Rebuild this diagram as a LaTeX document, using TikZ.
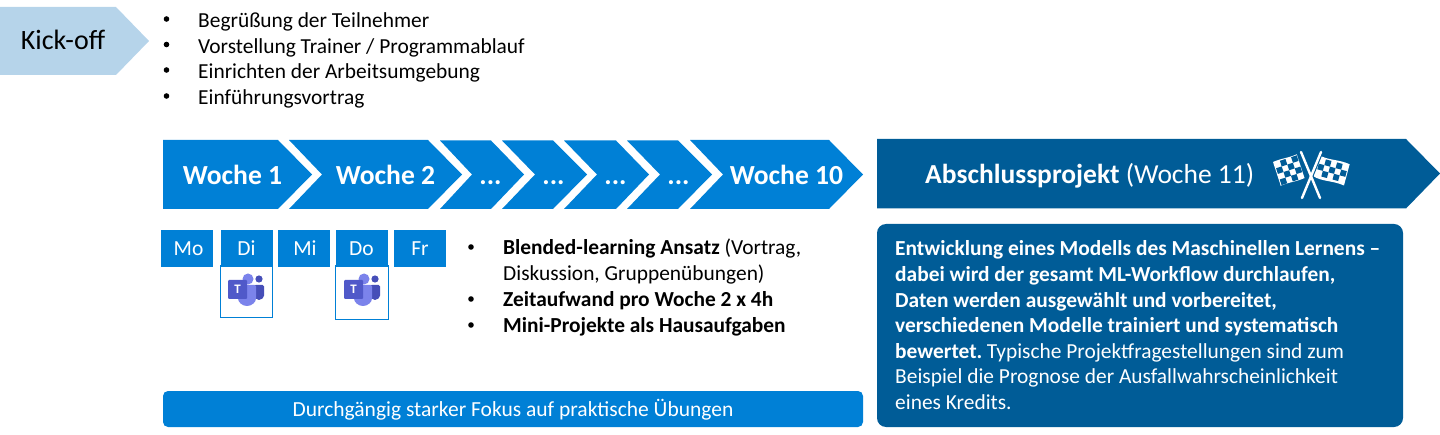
\documentclass[tikz,border=0pt]{standalone}
\usepackage{fontspec}
\setmainfont{Carlito}
\definecolor{kick}{HTML}{B6D4EA}
\definecolor{wk}{HTML}{0080D6}
\definecolor{dk}{HTML}{005C97}
\definecolor{tm}{HTML}{5059C9}
\definecolor{tmb}{HTML}{7B83EB}
\definecolor{tmd}{HTML}{464EB8}
\tikzset{
 x=1pt,y=-1pt,
 chev/.style={fill=wk,draw=none},
 lbl/.style={font=\fontsize{27.6}{27.6}\selectfont\bfseries,text=white,inner sep=0pt,anchor=base},
 day/.style={fill=wk,draw=none,minimum width=52pt,minimum height=37pt,inner sep=0pt,text=white,font=\fontsize{21.5}{21.5}\selectfont},
 teamsbox/.style={draw=wk,line width=1.7pt,fill=white,inner sep=0pt},
 tx/.style={font=\fontsize{21.4}{21.4}\selectfont,inner sep=0pt,anchor=base west,text=black},
 bul/.style={circle,fill=black,inner sep=0pt,minimum size=5.6pt},
 wt/.style={font=\fontsize{21.4}{21.4}\selectfont,inner sep=0pt,anchor=base west,text=white},
}
\newcommand{\teamsicon}[2]{%
 \begin{scope}[shift={(#1,#2)}]
  \fill[tmd] (13,-5) circle (3.6);
  \fill[tmd,rounded corners=1.5pt] (8,1) -- (18,1) -- (18,10) arc[start angle=0,end angle=-180,x radius=5pt,y radius=6pt] -- cycle;
  \fill[tmb] (2,-5) circle (5.5);
  \fill[tmb,rounded corners=1.5pt] (-8,1) -- (10,1) -- (10,13) arc[start angle=0,end angle=-180,x radius=9pt,y radius=9pt] -- cycle;
  \fill[tm,rounded corners=1pt] (-18,-4) rectangle (1,15);
  \node[font=\fontsize{13}{13}\selectfont\bfseries,text=white,inner sep=0pt] (#1t) at (-8.5,5.5) {T};
 \end{scope}}
\begin{document}
\begin{tikzpicture}
\useasboundingbox (0,0) rectangle (1440,435);
% Kick-off
\fill[kick] (0,7) -- (116,7) -- (149,41) -- (116,75) -- (0,75) -- cycle;
\node[font=\fontsize{28}{28}\selectfont,inner sep=0pt,anchor=base] (kick) at (63,50) {Kick-off};
% bullets
\foreach \y/\t [count=\i] in {28/{Begrüßung der Teilnehmer},53.5/{Vorstellung Trainer {/} Programmablauf},79/{Einrichten der Arbeitsumgebung},105/{Einführungsvortrag}}{
  \node[bul] (kb\i) at (166.5,\y-9) {};
  \node[tx] (kt\i) at (198,\y) {\t};
}
% Weeks
\fill[chev] (163,140) -- (278,140) -- (312,174.5) -- (278,209) -- (163,209) -- cycle;
\fill[chev] (289,140) -- (428,140) -- (462,174.5) -- (428,209) -- (289,209) -- (322,174.5) -- cycle;
\fill[chev] (440,140.5) -- (491,140.5) -- (524,174.5) -- (491,209) -- (440,209) -- (472,174.5) -- cycle;
\fill[chev] (502,140.5) -- (553,140.5) -- (587,174.5) -- (553,209) -- (502,209) -- (535,174.5) -- cycle;
\fill[chev] (564,140.5) -- (616,140.5) -- (649,174.5) -- (616,209) -- (564,209) -- (597,174.5) -- cycle;
\fill[chev] (627,140.5) -- (678,140.5) -- (712,174.5) -- (678,209) -- (627,209) -- (660,174.5) -- cycle;
\fill[chev] (690,140) -- (829,140) -- (863,174.5) -- (829,209) -- (690,209) -- (723,174.5) -- cycle;
\node[lbl] (w1) at (232.5,184.5) {Woche 1};
\node[lbl] (w2) at (385.5,184.5) {Woche 2};
\node[lbl] (w3) at (490.5,184.5) {...};
\node[lbl] (w4) at (553.5,184.5) {...};
\node[lbl] (w5) at (615.5,184.5) {...};
\node[lbl] (w6) at (678.5,184.5) {...};
\node[lbl] (w10) at (786.5,184.5) {Woche 10};
% Abschluss
\fill[dk] (877,139) -- (1406,139) -- (1440,173.5) -- (1406,208.5) -- (877,208.5) -- cycle;
\node[font=\fontsize{27.5}{27.5}\selectfont,text=white,inner sep=0pt,anchor=base west] (abs) at (925,184) {\textbf{Abschlussprojekt} (Woche 11)};
% flags
\begin{scope}[shift={(1273,162)},rotate=18]
 \fill[white] (0,0) .. controls (8,-1) and (16,1) .. (25,0) -- (25,25) .. controls (16,26) and (8,24) .. (0,25) -- cycle;
 \foreach \i in {0,1,2,3}{\foreach \j in {0,1,2,3}{
   \pgfmathparse{int(mod(\i+\j,2))}
   \ifnum\pgfmathresult=1 \fill[dk] (1+\i*5.9,1+\j*5.9) rectangle +(5.9,5.9);\fi
 }}
\end{scope}
\begin{scope}[shift={(1319,155)},rotate=-15]
 \fill[white] (0,0) .. controls (10,3) and (20,-1) .. (32,1) -- (32,23) .. controls (20,21) and (10,25) .. (0,22) -- cycle;
 \foreach \i in {0,1,2,3,4}{\foreach \j in {0,1,2}{
   \pgfmathparse{int(mod(\i+\j,2))}
   \ifnum\pgfmathresult=1 \fill[dk] (2+\i*5.8,2.5+\j*5.9) rectangle +(5.8,5.9);\fi
 }}
\end{scope}
\draw[dk,line width=4.6pt] (1301,152) -- (1320,198);
\draw[dk,line width=4.6pt] (1321,152) -- (1302,198);
\draw[white,line width=2.4pt,line cap=round] (1301,152) -- (1320,198);
\draw[white,line width=2.4pt,line cap=round] (1321,152) -- (1302,198);
% Days
\node[day] (mo) at (187,248.5) {\hspace*{3pt}Mo};
\node[teamsbox,minimum width=52pt,minimum height=52pt] (dibox) at (246.5,291.5) {};
\node[day] (di) at (246.5,248.5) {Di};
\node[day] (mi) at (304,248.5) {\hspace*{2pt}Mi};
\node[teamsbox,minimum width=53pt,minimum height=54pt] (dobox) at (362,292.5) {};
\node[day] (do) at (361.5,248.5) {Do};
\node[day] (fr) at (420,248.5) {Fr};
\teamsicon{246}{284}
\teamsicon{362}{284}
% middle bullets
\node[bul] (m1) at (471,247) {};
\node[tx] (m1a) at (503,255) {\textbf{Blended-learning Ansatz} (Vortrag,};
\node[tx] (m1b) at (503,281) {Diskussion, Gruppenübungen)};
\node[bul] (m2) at (471,299) {};
\node[tx] (m2a) at (503,307) {\textbf{Zeitaufwand pro Woche 2 x 4h}};
\node[bul] (m3) at (471,325) {};
\node[tx] (m3a) at (503,332.5) {\textbf{Mini-Projekte als Hausaufgaben}};
% Bars
\fill[wk,rounded corners=5pt] (163,391) rectangle (863,427);
\node[font=\fontsize{21.5}{21.5}\selectfont,text=white,inner sep=0pt,anchor=base] (bar) at (513,417) {Durchgängig starker Fokus auf praktische Übungen};
\fill[dk,rounded corners=9pt] (877,224) rectangle (1403,427);
\node[wt] (a1) at (895,255.5) {\textbf{Entwicklung eines Modells des Maschinellen Lernens –}};
\node[wt] (a2) at (895,282) {\textbf{dabei wird der gesamt ML-Workflow durchlaufen,}};
\node[wt] (a3) at (895,308) {\textbf{Daten werden ausgewählt und vorbereitet,}};
\node[wt] (a4) at (895,333) {\textbf{verschiedenen Modelle trainiert und systematisch}};
\node[wt] (a5) at (895,358.5) {\textbf{bewertet.}\hspace{-2pt} Typische Projektfragestellungen sind zum};
\node[wt] (a6) at (895,384) {Beispiel die Prognose der Ausfallwahrscheinlichkeit};
\node[wt] (a7) at (895,409.5) {eines Kredits.};
\end{tikzpicture}
\end{document}
